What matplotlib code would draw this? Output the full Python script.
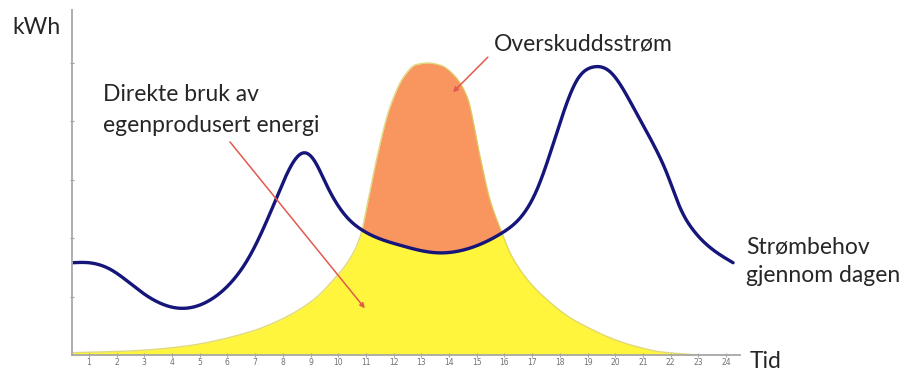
import matplotlib.pyplot as plt
import numpy as np

# hours on the x axis
hours = list(range(1, 25))

# electricity demand through the day (kWh)
demand_x = [0.39, 1.0, 1.76, 2.95, 4.29, 5.37, 6.20, 6.75, 7.79, 8.36, 8.73, 9.09,
            9.59, 10.31, 10.86, 12.23, 13.56, 14.75, 15.91, 17.17, 18.0, 18.62,
            19.19, 19.81, 20.64, 21.36, 21.87, 22.34, 22.81, 23.53, 24.25]
demand_y = [1.58, 1.58, 1.47, 1.06, 0.80, 0.94, 1.28, 1.65, 2.71, 3.29, 3.46, 3.36,
            2.90, 2.36, 2.14, 1.88, 1.75, 1.83, 2.09, 2.83, 3.97, 4.71,
            4.93, 4.85, 4.25, 3.62, 3.10, 2.52, 2.14, 1.80, 1.58]

# own solar production (kWh)
solar_x = [0.39, 2.5, 4.29, 6.70, 7.90, 9.09, 9.81, 10.31, 10.78, 11.1, 11.40, 11.87,
           12.4, 12.8, 13.24, 13.7, 14.2, 14.65, 15.12, 15.48, 15.91, 16.2, 16.9,
           17.6, 18.3, 19.1, 20.0, 20.8, 21.7, 23.4, 24.5]
solar_y = [0.04, 0.07, 0.14, 0.38, 0.60, 0.94, 1.28, 1.57, 2.01, 2.70, 3.39, 4.25,
           4.79, 4.97, 5.0, 4.96, 4.78, 4.42, 3.39, 2.65, 2.09, 1.75, 1.25,
           0.92, 0.66, 0.45, 0.26, 0.14, 0.05, 0.0, 0.0]


def pchip(x, y, xs):
    # monotone cubic, keeps the production curve from overshooting
    x = np.asarray(x, float)
    y = np.asarray(y, float)
    h = np.diff(x)
    d = np.diff(y) / h
    m = np.zeros_like(y)
    w1 = 2 * h[1:] + h[:-1]
    w2 = h[1:] + 2 * h[:-1]
    with np.errstate(divide="ignore", invalid="ignore"):
        mid = (w1 + w2) / (w1 / d[:-1] + w2 / d[1:])
    m[1:-1] = np.where(d[:-1] * d[1:] > 0, mid, 0.0)
    m[0] = d[0]
    m[-1] = d[-1]
    i = np.clip(np.searchsorted(x, xs) - 1, 0, len(h) - 1)
    t = (xs - x[i]) / h[i]
    h00 = 2 * t**3 - 3 * t**2 + 1
    h10 = t**3 - 2 * t**2 + t
    h01 = -2 * t**3 + 3 * t**2
    h11 = t**3 - t**2
    return h00 * y[i] + h10 * h[i] * m[i] + h01 * y[i + 1] + h11 * h[i] * m[i + 1]


def spline(x, y, xs):
    # natural cubic spline for the demand line
    x = np.asarray(x, float)
    y = np.asarray(y, float)
    n = len(x)
    h = np.diff(x)
    A = np.zeros((n, n))
    b = np.zeros(n)
    A[0, 0] = A[-1, -1] = 1
    for k in range(1, n - 1):
        A[k, k - 1] = h[k - 1]
        A[k, k] = 2 * (h[k - 1] + h[k])
        A[k, k + 1] = h[k]
        b[k] = 3 * ((y[k + 1] - y[k]) / h[k] - (y[k] - y[k - 1]) / h[k - 1])
    c = np.linalg.solve(A, b)
    i = np.clip(np.searchsorted(x, xs) - 1, 0, n - 2)
    bc = (y[i + 1] - y[i]) / h[i] - h[i] * (2 * c[i] + c[i + 1]) / 3
    dc = (c[i + 1] - c[i]) / (3 * h[i])
    t = xs - x[i]
    return y[i] + bc * t + c[i] * t**2 + dc * t**3


W, H = 909, 372
fig = plt.figure(figsize=(W / 100, H / 100), dpi=100, facecolor="w")
ax = fig.add_axes([72 / W, 17 / H, (740 - 72) / W, (355 - 10) / H])

xs = np.linspace(demand_x[0], demand_x[-1], 2000)
dem = spline(demand_x, demand_y, xs)
sol = pchip(solar_x, solar_y, xs)

# self-consumed part and surplus
ax.fill_between(xs, 0, np.minimum(dem, sol), color="#fff53c", lw=0)
ax.fill_between(xs, dem, sol, where=sol > dem, color="#f9955f", lw=0, interpolate=True)
ax.plot(xs, sol, color="#d8d060", lw=1.0, alpha=0.8)
ax.plot(xs, dem, color="#15157a", lw=2.4, solid_capstyle="round")

ax.set_xlim(0.39, 24.5)
ax.set_ylim(0, 345 / 58.4)

for s in ["top", "right"]:
    ax.spines[s].set_visible(False)
for s in ["left", "bottom"]:
    ax.spines[s].set_color("#a8a8a8")
    ax.spines[s].set_linewidth(1.3)

ax.set_xticks(hours, labels=[str(h) for h in hours])
ax.set_yticks([1, 2, 3, 4, 5], labels=[])
ax.tick_params(axis="both", direction="inout", length=3, width=0.8, color="#a0a0a0")
ax.tick_params(axis="x", labelsize=5.5, labelcolor="#707070", pad=1)

txt = dict(family="Lato", color="#262626", fontsize=16.5, va="center")

fig.text(12 / W, 1 - 27 / H, "kWh", **txt)
fig.text(494 / W, 1 - 44 / H, "Overskuddsstrøm", **txt)
fig.text(103 / W, 1 - 110 / H, "Direkte bruk av\negenprodusert energi", linespacing=1.57, **txt)
fig.text(746 / W, 1 - 261.5 / H, "Strømbehov\ngjennom dagen", linespacing=1.46, **txt)
fig.text(750 / W, 1 - 362 / H, "Tid", **txt)

arrow = dict(arrowstyle="-|>", color="#e25a4e", lw=1.1, mutation_scale=7, shrinkA=0, shrinkB=0)
ax.annotate("", xy=(10.96, 0.80), xytext=(6.09, 3.65), arrowprops=arrow)
ax.annotate("", xy=(14.14, 4.50), xytext=(15.40, 5.10), arrowprops=arrow, annotation_clip=False)

fig.savefig("out.png", dpi=100, facecolor="w")
